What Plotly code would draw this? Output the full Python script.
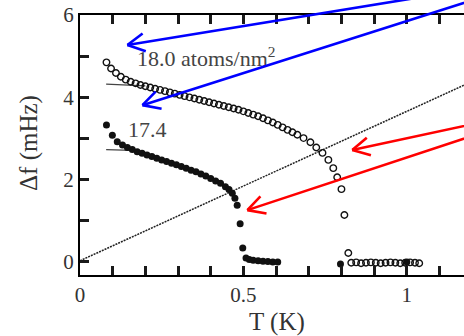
import math
import plotly.graph_objects as go

# ---------------- data ----------------
open_T = [0.081, 0.095, 0.110, 0.125, 0.140, 0.155, 0.170, 0.185, 0.200, 0.215,
          0.230, 0.245, 0.260, 0.275, 0.290, 0.305, 0.320, 0.335, 0.350, 0.365,
          0.380, 0.395, 0.410, 0.425, 0.440, 0.455, 0.470, 0.485, 0.500, 0.515,
          0.530, 0.545, 0.560, 0.575, 0.590, 0.605, 0.620, 0.635, 0.650, 0.665,
          0.684, 0.705, 0.723, 0.742, 0.760, 0.775, 0.787, 0.800, 0.809, 0.821,
          0.830, 0.845, 0.860, 0.875, 0.890, 0.905, 0.920, 0.935, 0.950, 0.965,
          0.980, 0.995, 1.010, 1.025, 1.038]
open_y = [4.85, 4.70, 4.59, 4.50, 4.43, 4.38, 4.34, 4.30, 4.27, 4.24,
          4.21, 4.18, 4.15, 4.12, 4.09, 4.06, 4.03, 4.00, 3.97, 3.94,
          3.91, 3.88, 3.85, 3.82, 3.79, 3.76, 3.73, 3.70, 3.66, 3.62,
          3.58, 3.54, 3.49, 3.44, 3.39, 3.33, 3.27, 3.21, 3.15, 3.09,
          3.01, 2.91, 2.78, 2.65, 2.48, 2.28, 2.06, 1.77, 1.14, 0.22,
          -0.02, -0.01, -0.03, -0.02, -0.01, -0.02, -0.03, -0.02, -0.01, -0.02,
          -0.03, -0.02, -0.01, -0.02, -0.03]

filled_T = [0.081, 0.099, 0.114, 0.130, 0.145, 0.160, 0.175, 0.190, 0.205, 0.220,
            0.235, 0.250, 0.265, 0.280, 0.295, 0.310, 0.325, 0.340, 0.355, 0.370,
            0.385, 0.400, 0.415, 0.430, 0.445, 0.456, 0.466, 0.474, 0.481, 0.490,
            0.498, 0.508, 0.518, 0.530, 0.545, 0.560, 0.575, 0.590, 0.605, 0.797, 1.000]
filled_y = [3.33, 3.08, 2.92, 2.84, 2.78, 2.73, 2.68, 2.64, 2.60, 2.56,
            2.52, 2.48, 2.44, 2.40, 2.36, 2.32, 2.28, 2.23, 2.19, 2.14,
            2.09, 2.03, 1.97, 1.91, 1.83, 1.76, 1.67, 1.55, 1.38, 0.93,
            0.34, 0.10, 0.06, 0.04, 0.03, 0.02, 0.01, 0.00, 0.00, -0.05, 0.00]

# short fit lines at low T
fit_open_T = [0.080, 0.200]
fit_open_y = [4.32, 4.28]
fit_filled_T = [0.080, 0.160]
fit_filled_y = [2.73, 2.71]

# diagonal reference line
diag_T = [0.0, 1.25]
diag_y = [0.03, 0.03 + 3.63 * 1.25]

labels = [("18.0 atoms/nm<sup>2</sup>", 0.168, 4.98), ("17.4", 0.140, 3.21)]

# arrows: (tip T, tip y, tail T, tail y, colour)
arrows = [
    (0.145, 5.27, 1.225, 6.67, "#0000ff"),
    (0.191, 3.81, 1.225, 6.42, "#0000ff"),
    (0.833, 2.72, 1.225, 3.39, "#ff0000"),
    (0.512, 1.26, 1.225, 3.13, "#ff0000"),
]

x_range = [0.0, 1.175]
y_range = [-0.316, 6.0]

W, H = 464, 336
ML, MR, MT, MB = 80, 0, 15, 61
PW, PH = W - ML - MR, H - MT - MB
sx = PW / (x_range[1] - x_range[0])
sy = PH / (y_range[1] - y_range[0])

FONT = "Liberation Serif, Times New Roman, serif"
TXT = "#333333"
AX = "black"

fig = go.Figure()

fig.add_trace(go.Scatter(x=diag_T, y=diag_y, mode="lines",
                         line=dict(color="#222222", width=1.5, dash="2px,1px"),
                         hoverinfo="skip", showlegend=False))
fig.add_trace(go.Scatter(x=fit_open_T, y=fit_open_y, mode="lines",
                         line=dict(color="#444444", width=1.2), showlegend=False))
fig.add_trace(go.Scatter(x=fit_filled_T, y=fit_filled_y, mode="lines",
                         line=dict(color="#444444", width=1.2), showlegend=False))
fig.add_trace(go.Scatter(x=open_T, y=open_y, mode="markers",
                         marker=dict(symbol="circle-open", size=6.5, color="#111111",
                                     line=dict(width=1.4, color="#111111")),
                         showlegend=False))
fig.add_trace(go.Scatter(x=filled_T, y=filled_y, mode="markers",
                         marker=dict(symbol="circle", size=7, color="#111111"),
                         showlegend=False))

annotations = []
for txt, tx, ty in labels:
    annotations.append(dict(x=tx, y=ty, xref="x", yref="y", text=txt, showarrow=False,
                            xanchor="left", yanchor="middle",
                            font=dict(family=FONT, size=22, color="#444444")))

# arrows with open V heads
for tipT, tipy, tailT, taily, col in arrows:
    annotations.append(dict(x=tipT, y=tipy, ax=tailT, ay=taily, xref="x", yref="y",
                            axref="x", ayref="y", text="", showarrow=True, arrowhead=0,
                            arrowwidth=2.6, arrowcolor=col, standoff=0, startstandoff=0))
    dxp = (tailT - tipT) * sx
    dyp = (taily - tipy) * sy
    L = math.hypot(dxp, dyp)
    ux, uy = dxp / L, dyp / L
    for sgn in (1, -1):
        a = math.radians(28) * sgn
        rx = ux * math.cos(a) - uy * math.sin(a)
        ry = ux * math.sin(a) + uy * math.cos(a)
        ex = tipT + rx * 21 / sx
        ey = tipy + ry * 21 / sy
        annotations.append(dict(x=tipT, y=tipy, ax=ex, ay=ey, xref="x", yref="y",
                                axref="x", ayref="y", text="", showarrow=True,
                                arrowhead=0, arrowwidth=2.6, arrowcolor=col,
                                standoff=0, startstandoff=0))

# axis titles
annotations.append(dict(x=(277 - ML) / PW, y=(H - MB - 322) / PH, xref="paper", yref="paper",
                        text="T (K)", showarrow=False, xanchor="center", yanchor="middle",
                        font=dict(family=FONT, size=25, color=TXT)))
annotations.append(dict(x=(29 - ML) / PW, y=(H - MB - 143) / PH, xref="paper", yref="paper",
                        text="Δf (mHz)", showarrow=False, textangle=-90,
                        xanchor="center", yanchor="middle",
                        font=dict(family=FONT, size=25, color=TXT)))

fig.update_layout(
    width=W, height=H,
    margin=dict(l=ML, r=MR, t=MT, b=MB),
    paper_bgcolor="white", plot_bgcolor="white",
    annotations=annotations,
    showlegend=False,
)
fig.update_xaxes(range=x_range, tickmode="linear", tick0=0, dtick=0.1,
                 ticks="inside", ticklen=9, tickwidth=3,
                 tickcolor="#1a1a1a", showline=True, linewidth=2, linecolor=AX,
                 mirror="ticks", showgrid=False, zeroline=False,
                 tickfont=dict(family=FONT, size=21, color=TXT),
                 labelalias={"0.1": " ", "0.2": " ", "0.3": " ", "0.4": " ",
                             "0.6": " ", "0.7": " ", "0.8": " ", "0.9": " ",
                             "1.1": " "})
fig.update_yaxes(range=y_range, tickmode="linear", tick0=0, dtick=1,
                 ticks="inside", ticklen=9, tickwidth=3,
                 tickcolor="#1a1a1a", showline=True, linewidth=2, linecolor=AX,
                 mirror=False, showgrid=False, zeroline=False,
                 tickfont=dict(family=FONT, size=21, color=TXT),
                 labelalias={"1": " ", "3": " ", "5": " ", "−1": " "})

fig.write_html("out.html")
